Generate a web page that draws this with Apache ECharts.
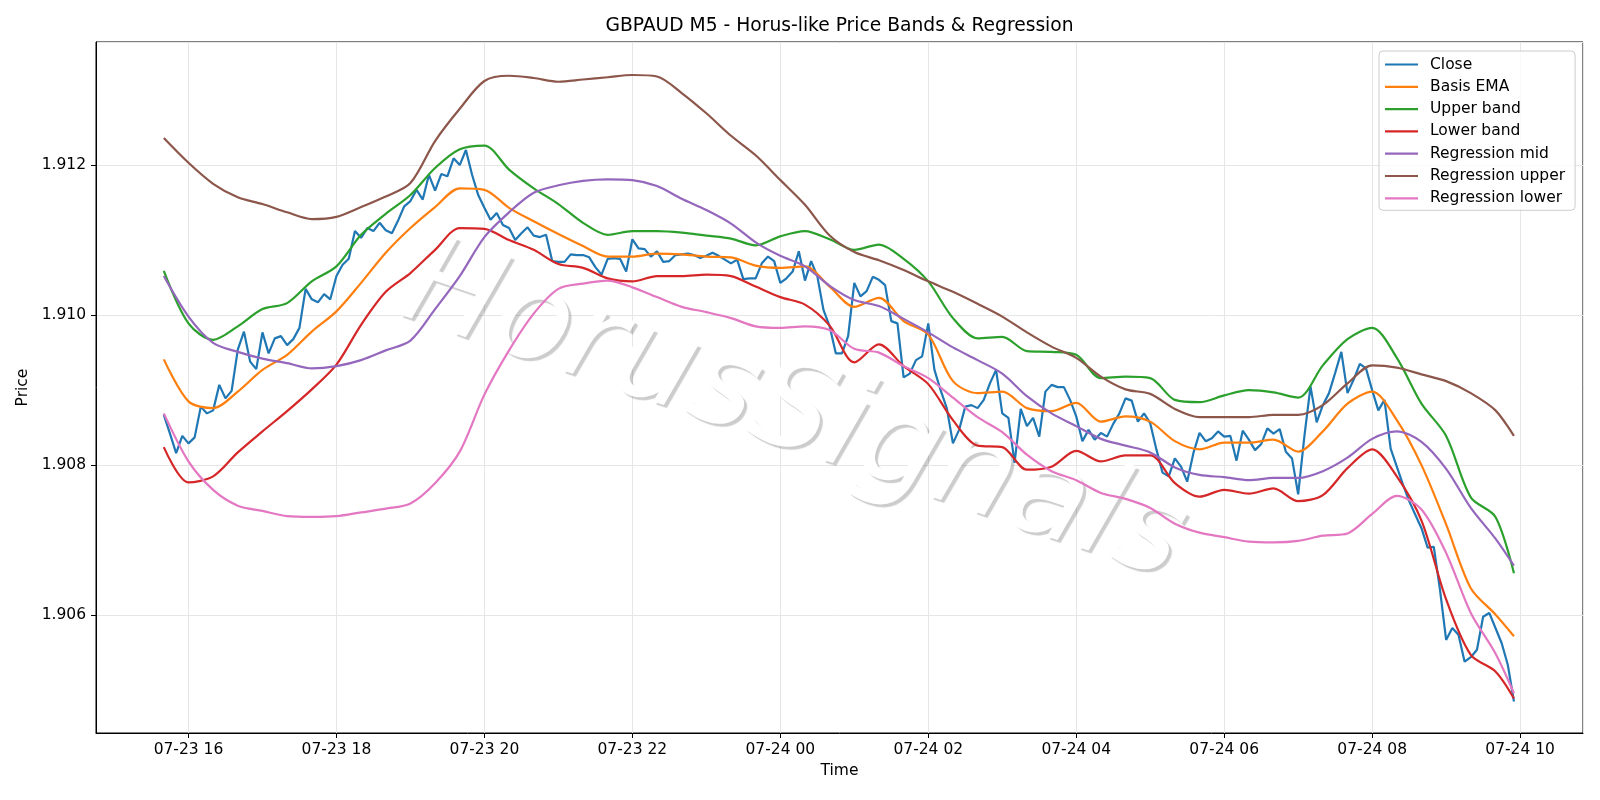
<!DOCTYPE html>
<html lang="en">

<head>
    <meta charset="UTF-8">
    <title>GBPAUD M5 - Horus-like Price Bands & Regression</title>
    <script src="https://cdn.jsdelivr.net/npm/echarts@6/dist/echarts.min.js"></script>
    <style>
        html, body { margin: 0; padding: 0; background: #fff; }
        #main { width: 1600px; height: 800px; }
    </style>
</head>

<body>
    <div id="main"></div>
    <script type="text/javascript">
        // M5 bars, first bar 07-23 15:40, one every 5 minutes
        var days = ['07-23', '07-24'];
        var startHour = 15 + 40 / 60;
        var stepMin = 5;
        // band and regression lines were read every 4th bar (plus the last one)
        var bandStep = 4;

        var close = [
            1.90867, 1.90842, 1.90816, 1.90839, 1.90829, 1.90837, 1.90878, 1.90869, 1.90873, 1.90907,
            1.90889, 1.90899, 1.90954, 1.90978, 1.90938, 1.90928, 1.90977, 1.90949, 1.90969, 1.90972,
            1.90960, 1.90968, 1.90983, 1.91035, 1.91021, 1.91017, 1.91028, 1.91021, 1.91052, 1.91067,
            1.91075, 1.91112, 1.91103, 1.91116, 1.91112, 1.91123, 1.91113, 1.91109, 1.91126, 1.91145,
            1.91152, 1.91167, 1.91154, 1.91187, 1.91166, 1.91188, 1.91185, 1.91209, 1.91200, 1.91220,
            1.91187, 1.91160, 1.91143, 1.91127, 1.91136, 1.91120, 1.91116, 1.91100, 1.91109, 1.91117,
            1.91106, 1.91104, 1.91107, 1.91072, 1.91071, 1.91071, 1.91081, 1.91080, 1.91080, 1.91077,
            1.91064, 1.91054, 1.91075, 1.91076, 1.91075, 1.91058, 1.91101, 1.91089, 1.91088, 1.91078,
            1.91085, 1.91071, 1.91072, 1.91080, 1.91081, 1.91082, 1.91080, 1.91076, 1.91079, 1.91083,
            1.91079, 1.91074, 1.91069, 1.91074, 1.91048, 1.91049, 1.91049, 1.91069, 1.91078, 1.91072,
            1.91043, 1.91049, 1.91058, 1.91085, 1.91046, 1.91072, 1.91052, 1.91007, 1.90985, 1.90949,
            1.90949, 1.90972, 1.91043, 1.91025, 1.91032, 1.91051, 1.91047, 1.91040, 1.90992, 1.90989,
            1.90917, 1.90922, 1.90940, 1.90945, 1.90989, 1.90927, 1.90900, 1.90876, 1.90829, 1.90847,
            1.90878, 1.90880, 1.90876, 1.90887, 1.90909, 1.90927, 1.90869, 1.90863, 1.90803, 1.90875,
            1.90852, 1.90863, 1.90838, 1.90898, 1.90907, 1.90904, 1.90904, 1.90887, 1.90865, 1.90832,
            1.90847, 1.90834, 1.90843, 1.90838, 1.90855, 1.90869, 1.90889, 1.90886, 1.90858, 1.90869,
            1.90856, 1.90821, 1.90790, 1.90785, 1.90809, 1.90798, 1.90778, 1.90816, 1.90843, 1.90832,
            1.90836, 1.90845, 1.90838, 1.90839, 1.90806, 1.90846, 1.90834, 1.90820, 1.90828, 1.90849,
            1.90842, 1.90848, 1.90818, 1.90809, 1.90761, 1.90838, 1.90905, 1.90857, 1.90880, 1.90896,
            1.90923, 1.90951, 1.90896, 1.90914, 1.90935, 1.90929, 1.90900, 1.90873, 1.90887, 1.90822,
            1.90798, 1.90774, 1.90752, 1.90734, 1.90716, 1.90690, 1.90691, 1.90634, 1.90567, 1.90583,
            1.90574, 1.90538, 1.90544, 1.90554, 1.90598, 1.90603, 1.90583, 1.90563, 1.90534, 1.90485
        ];

        var basisEma = [
            1.90941, 1.90885, 1.90876, 1.90898, 1.90927, 1.90947, 1.90978, 1.91005, 1.91043, 1.91083, 1.91116, 1.91144, 1.91169,
            1.91167, 1.91143, 1.91125, 1.91108, 1.91092, 1.91078, 1.91078, 1.91082, 1.91081, 1.91078, 1.91077, 1.91066, 1.91063,
            1.91065, 1.91038, 1.91011, 1.91023, 1.90992, 1.90974, 1.90912, 1.90896, 1.90898, 1.90876, 1.90872, 1.90883, 1.90858,
            1.90865, 1.90858, 1.90832, 1.90821, 1.90830, 1.90830, 1.90834, 1.90818, 1.90845, 1.90882, 1.90898, 1.90860, 1.90800,
            1.90721, 1.90636, 1.90601, 1.90572
        ];

        var upperBand = [
            1.91059, 1.90989, 1.90967, 1.90985, 1.91008, 1.91016, 1.91045, 1.91065, 1.91107, 1.91135, 1.91160, 1.91196, 1.91221,
            1.91226, 1.91194, 1.91169, 1.91148, 1.91123, 1.91107, 1.91112, 1.91112, 1.91110, 1.91106, 1.91102, 1.91093, 1.91105,
            1.91112, 1.91101, 1.91087, 1.91094, 1.91075, 1.91045, 1.90996, 1.90969, 1.90971, 1.90952, 1.90951, 1.90947, 1.90916,
            1.90918, 1.90916, 1.90887, 1.90884, 1.90893, 1.90900, 1.90897, 1.90890, 1.90933, 1.90968, 1.90983, 1.90943, 1.90882,
            1.90839, 1.90757, 1.90731, 1.90656
        ];

        var lowerBand = [
            1.90824, 1.90777, 1.90785, 1.90817, 1.90845, 1.90872, 1.90901, 1.90934, 1.90987, 1.91031, 1.91056, 1.91087, 1.91116,
            1.91115, 1.91100, 1.91087, 1.91068, 1.91063, 1.91049, 1.91045, 1.91052, 1.91052, 1.91054, 1.91052, 1.91038, 1.91024,
            1.91014, 1.90986, 1.90937, 1.90961, 1.90932, 1.90908, 1.90860, 1.90826, 1.90824, 1.90794, 1.90798, 1.90819, 1.90805,
            1.90813, 1.90813, 1.90776, 1.90758, 1.90767, 1.90762, 1.90769, 1.90752, 1.90760, 1.90796, 1.90821, 1.90785, 1.90726,
            1.90621, 1.90547, 1.90525, 1.90489
        ];

        var regMid = [
            1.91052, 1.90998, 1.90963, 1.90951, 1.90942, 1.90936, 1.90929, 1.90932, 1.90940, 1.90953, 1.90966, 1.91008, 1.91052,
            1.91104, 1.91137, 1.91163, 1.91173, 1.91179, 1.91181, 1.91180, 1.91172, 1.91155, 1.91140, 1.91122, 1.91097, 1.91079,
            1.91065, 1.91039, 1.91020, 1.91012, 1.90995, 1.90977, 1.90957, 1.90940, 1.90922, 1.90892, 1.90869, 1.90852, 1.90835,
            1.90826, 1.90817, 1.90797, 1.90787, 1.90784, 1.90780, 1.90783, 1.90783, 1.90792, 1.90810, 1.90835, 1.90845, 1.90831,
            1.90795, 1.90743, 1.90702, 1.90666
        ];

        var regUpper = [
            1.91236, 1.91203, 1.91175, 1.91157, 1.91148, 1.91137, 1.91128, 1.91131, 1.91144, 1.91158, 1.91176, 1.91232, 1.91275,
            1.91312, 1.91319, 1.91316, 1.91311, 1.91314, 1.91317, 1.91320, 1.91318, 1.91296, 1.91269, 1.91239, 1.91213, 1.91180,
            1.91147, 1.91106, 1.91084, 1.91073, 1.91060, 1.91045, 1.91031, 1.91015, 1.90998, 1.90977, 1.90958, 1.90943, 1.90918,
            1.90901, 1.90895, 1.90875, 1.90864, 1.90864, 1.90864, 1.90867, 1.90867, 1.90880, 1.90909, 1.90933, 1.90930, 1.90921,
            1.90912, 1.90896, 1.90873, 1.90839
        ];

        var regLower = [
            1.90869, 1.90805, 1.90767, 1.90746, 1.90739, 1.90732, 1.90731, 1.90732, 1.90737, 1.90742, 1.90749, 1.90776, 1.90818,
            1.90894, 1.90953, 1.91002, 1.91035, 1.91042, 1.91046, 1.91037, 1.91024, 1.91011, 1.91004, 1.90996, 1.90985, 1.90983,
            1.90985, 1.90980, 1.90955, 1.90950, 1.90932, 1.90916, 1.90890, 1.90864, 1.90844, 1.90814, 1.90792, 1.90780, 1.90763,
            1.90755, 1.90743, 1.90722, 1.90710, 1.90704, 1.90698, 1.90697, 1.90699, 1.90706, 1.90709, 1.90735, 1.90759, 1.90741,
            1.90683, 1.90603, 1.90549, 1.90496
        ];

        var names = ['Close', 'Basis EMA', 'Upper band', 'Lower band', 'Regression mid', 'Regression upper', 'Regression lower'];
        var colors = ['#1f77b4', '#ff7f0e', '#2ca02c', '#d62728', '#9467bd', '#8c564b', '#e377c2'];

        var font = 'DejaVu Sans';

        // bar index -> hours since 07-23 00:00
        function hourAt(i) {
            return startHour + i * stepMin / 60;
        }

        var closeIdx = [];
        for (var i = 0; i < close.length; i++) closeIdx.push(i);
        var bandIdx = [];
        for (var i = 0; i < close.length; i += bandStep) bandIdx.push(i);
        if (bandIdx[bandIdx.length - 1] !== close.length - 1) bandIdx.push(close.length - 1);

        function pairs(idx, vals) {
            var out = [];
            for (var k = 0; k < vals.length; k++) {
                out.push([hourAt(idx[k]), vals[k]]);
            }
            return out;
        }

        var lines = [
            pairs(closeIdx, close),
            pairs(bandIdx, basisEma),
            pairs(bandIdx, upperBand),
            pairs(bandIdx, lowerBand),
            pairs(bandIdx, regMid),
            pairs(bandIdx, regUpper),
            pairs(bandIdx, regLower)
        ];

        var series = [];
        for (var s = 0; s < lines.length; s++) {
            series.push({
                name: names[s],
                type: 'line',
                data: lines[s],
                symbol: 'none',
                showSymbol: false,
                smooth: s === 0 ? false : 0.3,
                color: colors[s],
                lineStyle: { width: 2.2, color: colors[s] },
                z: 3
            });
        }

        // legend: plain line samples, no marker
        var legendData = [];
        for (var s = 0; s < names.length; s++) {
            legendData.push({ name: names[s], icon: 'rect', itemStyle: { color: colors[s] } });
        }

        var chartDom = document.getElementById('main');
        var myChart = echarts.init(chartDom);
        var option;

        option = {
            animation: false,
            backgroundColor: '#ffffff',
            textStyle: { fontFamily: font },
            grid: {
                left: 96,
                right: 17,
                top: 42,
                bottom: 67,
                show: true,
                borderColor: '#000',
                borderWidth: 1,
                containLabel: false
            },
            legend: {
                orient: 'vertical',
                left: 1379,
                top: 51,
                itemWidth: 33,
                itemHeight: 2.2,
                itemGap: 6.3,
                padding: [5.5, 10, 4, 6],
                backgroundColor: 'rgba(255,255,255,0.8)',
                borderColor: '#cccccc',
                borderWidth: 1,
                borderRadius: 4,
                textStyle: { fontFamily: font, fontSize: 15.5, color: '#000', padding: [0, 0, 0, 7] },
                data: legendData
            },
            xAxis: {
                type: 'value',
                min: 14.75,
                max: 34.85,
                splitNumber: 10,
                name: 'Time',
                nameLocation: 'middle',
                nameGap: 30,
                nameTextStyle: { fontFamily: font, fontSize: 15.5, color: '#000' },
                axisLine: { show: true, onZero: false, lineStyle: { color: '#000', width: 1 } },
                axisTick: { show: true, length: 5, lineStyle: { color: '#000', width: 1 } },
                axisLabel: {
                    fontFamily: font,
                    fontSize: 15.5,
                    color: '#000',
                    margin: 9,
                    showMinLabel: false,
                    showMaxLabel: false,
                    formatter: function (h) {
                        var d = h >= 24 ? days[1] : days[0];
                        var hh = Math.round(h % 24);
                        return d + ' ' + (hh < 10 ? '0' + hh : hh);
                    }
                },
                splitLine: { show: true, lineStyle: { color: '#e6e6e6', width: 1 } }
            },
            yAxis: {
                type: 'value',
                min: 1.90443,
                max: 1.91364,
                splitNumber: 5,
                name: 'Price',
                nameLocation: 'middle',
                nameGap: 56,
                nameTextStyle: { fontFamily: font, fontSize: 15.5, color: '#000' },
                axisLine: { show: true, onZero: false, lineStyle: { color: '#000', width: 1 } },
                axisTick: { show: true, length: 5, lineStyle: { color: '#000', width: 1 } },
                axisLabel: {
                    fontFamily: font,
                    fontSize: 15.5,
                    color: '#000',
                    margin: 10,
                    showMinLabel: false,
                    showMaxLabel: false,
                    formatter: function (v) { return v.toFixed(3); }
                },
                splitLine: { show: true, lineStyle: { color: '#e6e6e6', width: 1 } }
            },
            graphic: [
                {
                    // title, centred over the plot area
                    type: 'text',
                    x: 839.5,
                    y: 26,
                    silent: true,
                    style: {
                        text: 'GBPAUD M5 - Horus-like Price Bands & Regression',
                        font: '18.7px "DejaVu Sans"',
                        fill: '#000',
                        align: 'center',
                        verticalAlign: 'middle',
                        textAlign: 'center',
                        textVerticalAlign: 'middle'
                    }
                },
                {
                    // watermark: white letters with a grey drop shadow
                    type: 'text',
                    x: 793,
                    y: 415,
                    rotation: -0.33,
                    z: 1,
                    silent: true,
                    style: {
                        text: 'HorusSignals',
                        font: 'italic 125px "DejaVu Sans"',
                        fill: '#ffffff',
                        align: 'center',
                        verticalAlign: 'middle',
                        textAlign: 'center',
                        textVerticalAlign: 'middle',
                        textShadowColor: 'rgba(0,0,0,0.2)',
                        textShadowBlur: 1,
                        textShadowOffsetX: 3,
                        textShadowOffsetY: 3,
                        shadowColor: 'rgba(0,0,0,0.2)',
                        shadowBlur: 1,
                        shadowOffsetX: 3,
                        shadowOffsetY: 3
                    }
                }
            ],
            series: series
        };

        option && myChart.setOption(option);
    </script>
</body>

</html>
